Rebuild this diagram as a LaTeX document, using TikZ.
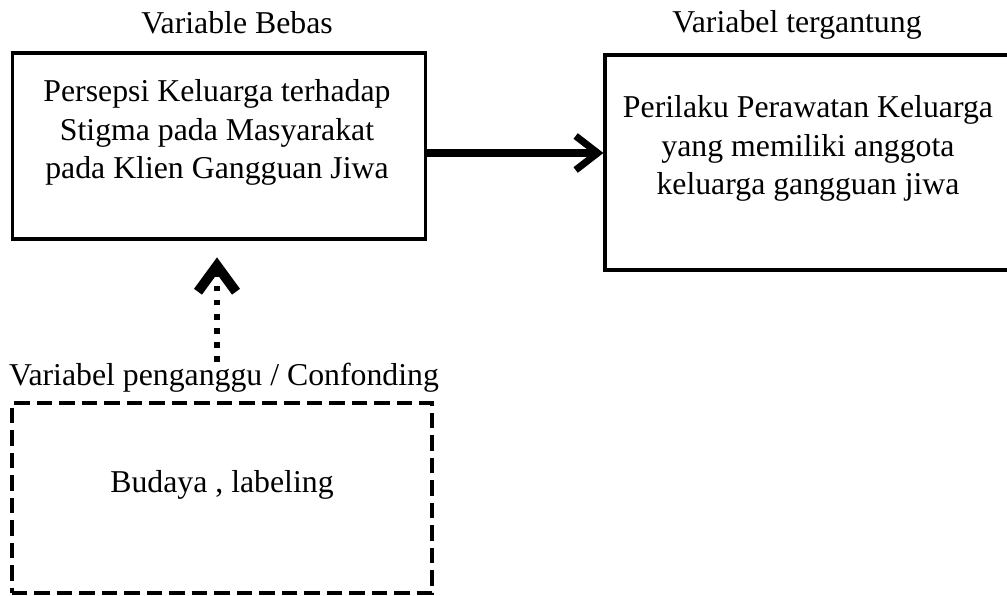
\documentclass[tikz,border=0pt]{standalone}
\usepackage{fontspec}
\setmainfont{Liberation Serif}
\usetikzlibrary{arrows.meta}

\begin{document}
\begin{tikzpicture}[x=0.025cm,y=-0.025cm,
  every node/.style={font=\fontsize{22.6}{27.2}\selectfont},
  txt/.style={align=center,inner sep=1pt},
  varbox/.style={draw,line width=2.2pt,inner sep=0pt},
  confbox/.style={draw,line width=2.8pt,inner sep=0pt,dash pattern=on 11pt off 5pt},
  mainarrow/.style={line width=5pt,-{Straight Barb[length=0.55cm,width=0.85cm]}},
  dotarrow/.style={line width=4pt,dash pattern=on 4pt off 6pt,
    -{Straight Barb[length=0.65cm,width=0.95cm,line width=7pt]},shorten >=0.42cm}]
  \useasboundingbox (0,0) rectangle (1007,596);
  % titles
  \node[txt] (bebastitle) at (237,23) {Variable Bebas};
  \node[txt] (tergtitle) at (797,25) {Variabel tergantung};
  \node[txt] (pengtitle) at (224,378) {Variabel penganggu / Confonding};
  % boxes
  \node[varbox,minimum width=10.3cm,minimum height=4.65cm] (bebas) at (219,146) {};
  \node[txt] (bebastxt) at (217,132.5) {Persepsi Keluarga terhadap\\Stigma pada Masyarakat\\pada Klien Gangguan Jiwa};
  \node[varbox,minimum width=10.15cm,minimum height=5.375cm] (terg) at (808,162.5) {};
  \node[txt] (tergtxt) at (808,148.5) {Perilaku Perawatan Keluarga\\yang memiliki anggota\\keluarga gangguan jiwa};
  \node[confbox,minimum width=10.5cm,minimum height=4.75cm] (peng) at (222,498) {};
  \node[txt] (pengtxt) at (222,485) {Budaya , labeling};
  % arrows
  \draw[mainarrow] ([yshift=-0.175cm]bebas.east) -- ([yshift=-0.175cm]bebas.east -| terg.west);
  \draw[dotarrow] (pengtitle.north -| bebastxt) -- (bebas.south -| bebastxt);
\end{tikzpicture}
\end{document}
